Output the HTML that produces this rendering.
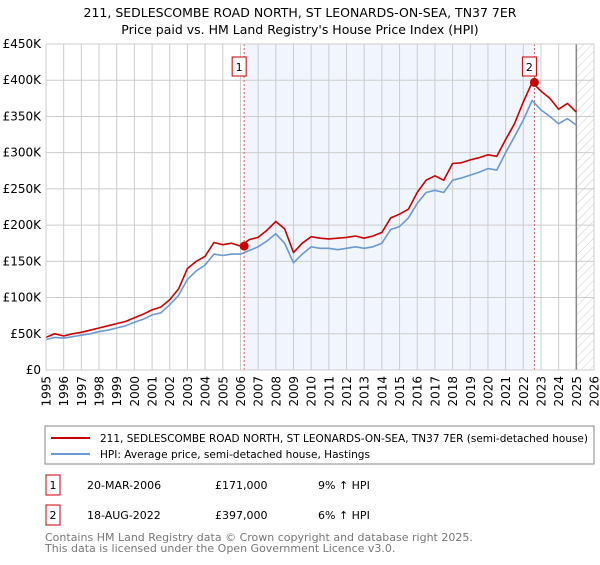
<!DOCTYPE html>
<html><head><meta charset="utf-8"><style>
body{margin:0;width:600px;height:560px;background:#fff;font-family:"Liberation Sans","DejaVu Sans",sans-serif;overflow:hidden}
svg text{font-family:"DejaVu Sans","Liberation Sans",sans-serif}
</style></head><body>
<svg id="chart" width="600" height="560" xmlns="http://www.w3.org/2000/svg">
<defs><pattern id="hatch" width="6" height="6" patternUnits="userSpaceOnUse" patternTransform="rotate(45)"><line x1="0" y1="0" x2="0" y2="6" stroke="#ccc" stroke-width="1"/></pattern></defs>
<text x="300" y="17" text-anchor="middle" font-size="12.5">211, SEDLESCOMBE ROAD NORTH, ST LEONARDS-ON-SEA, TN37 7ER</text>
<text x="300" y="34" text-anchor="middle" font-size="12.5">Price paid vs. HM Land Registry's House Price Index (HPI)</text>
<g id="plot"></g>
<rect x="45" y="426" width="549" height="38" fill="#fff" stroke="#888"/>
<line x1="51" y1="438" x2="90" y2="438" stroke="#cc0000" stroke-width="2"/>
<text x="100" y="442" font-size="11" textLength="488" lengthAdjust="spacingAndGlyphs">211, SEDLESCOMBE ROAD NORTH, ST LEONARDS-ON-SEA, TN37 7ER (semi-detached house)</text>
<line x1="51" y1="454" x2="90" y2="454" stroke="#6a99d2" stroke-width="2"/>
<text x="100" y="458" font-size="11" textLength="270" lengthAdjust="spacingAndGlyphs">HPI: Average price, semi-detached house, Hastings</text>
<g font-size="11">
<rect x="46" y="475" width="14" height="20" fill="#fff" stroke="#cc0000"/><text x="53" y="489" text-anchor="middle">1</text>
<text x="87" y="489">20-MAR-2006</text><text x="215" y="489">£171,000</text><text x="318" y="489">9% ↑ HPI</text></g>
<g font-size="11">
<rect x="46" y="505" width="14" height="20" fill="#fff" stroke="#cc0000"/><text x="53" y="519" text-anchor="middle">2</text>
<text x="87" y="519">18-AUG-2022</text><text x="215" y="519">£397,000</text><text x="318" y="519">6% ↑ HPI</text></g>
<text x="45" y="541" font-size="11" fill="#777">Contains HM Land Registry data © Crown copyright and database right 2025.</text>
<text x="45" y="552" font-size="11" fill="#777">This data is licensed under the Open Government Licence v3.0.</text>
</svg>
<script>
const times=[1995,1995.5,1996,1996.5,1997,1997.5,1998,1998.5,1999,1999.5,2000,2000.5,2001,2001.5,2002,2002.5,2003,2003.5,2004,2004.5,2005,2005.5,2006,2006.5,2007,2007.5,2008,2008.5,2009,2009.5,2010,2010.5,2011,2011.5,2012,2012.5,2013,2013.5,2014,2014.5,2015,2015.5,2016,2016.5,2017,2017.5,2018,2018.5,2019,2019.5,2020,2020.5,2021,2021.5,2022,2022.5,2023,2023.5,2024,2024.5,2025];
const hpiValues=[42,45,44,46,48,50,53,55,58,61,66,70,76,79,90,103,125,137,145,160,158,160,160,165,170,178,188,175,148,160,170,168,168,166,168,170,168,170,175,194,198,210,230,245,248,245,262,265,269,273,278,276,300,322,345,372,359,350,340,347,338];
const priceValues=[45,50,47,50,52,55,58,61,64,67,72,77,83,87,97,112,140,150,157,176,173,175,171,180,183,193,205,195,162,175,184,182,181,182,183,185,182,185,190,210,215,222,245,262,268,262,285,286,290,293,297,295,318,340,370,397,385,375,360,368,356];
const saleTimes=[2006.21,2022.63];
const saleValues=[171,397];
const saleLabels=["1","2"];
const yTicks=[0,50,100,150,200,250,300,350,400,450];
const yTickLabels=["£0","£50K","£100K","£150K","£200K","£250K","£300K","£350K","£400K","£450K"];
const xTicks=[1995,1996,1997,1998,1999,2000,2001,2002,2003,2004,2005,2006,2007,2008,2009,2010,2011,2012,2013,2014,2015,2016,2017,2018,2019,2020,2021,2022,2023,2024,2025,2026];
const dataEnd=2025.0;

const NS="http://www.w3.org/2000/svg";
const X0=46,X1=594,Y0=370,Y1=44;
const xs=t=>X0+(t-1995)/(2026-1995)*(X1-X0);
const ys=v=>Y0-v/450*(Y0-Y1);
const g=document.getElementById('plot');
function mk(tag,at,parent){const e=document.createElementNS(NS,tag);for(const k in at)e.setAttribute(k,at[k]);(parent||g).appendChild(e);return e;}
let e;
e=mk('rect',{x:X0,y:Y1,width:X1-X0,height:Y0-Y1,fill:'#fff'});


e=mk('rect',{x:xs(saleTimes[0]),y:Y1,width:xs(saleTimes[1])-xs(saleTimes[0]),height:Y0-Y1,fill:'#eef3fc',opacity:0.8});


e=mk('rect',{x:xs(dataEnd),y:Y1,width:X1-xs(dataEnd),height:Y0-Y1,fill:'url(#hatch)'});


yTicks.forEach((v,i)=>{
 e=mk('line',{x1:X0,x2:X1,y1:ys(v),y2:ys(v),stroke:'#ccc','stroke-width':1});
 
 
 e=mk('text',{x:X0-5,y:ys(v)+4,'text-anchor':'end','font-size':'12'});
 e.textContent=yTickLabels[i];
 
 
});
xTicks.forEach(t=>{
 e=mk('line',{x1:xs(t),x2:xs(t),y1:Y1,y2:Y0,stroke:'#ccc','stroke-width':1});
 
 
 const tx=xs(t)+4.5, ty=Y0+6;
 e=mk('text',{x:tx,y:ty,'text-anchor':'end','font-size':'12',transform:'rotate(-90 '+tx+' '+ty+')'});
 e.textContent=String(t);
 
 
});
e=mk('line',{x1:xs(dataEnd),x2:xs(dataEnd),y1:Y1,y2:Y0,stroke:'#888','stroke-width':1.5});


function path(vals,color,name){
 const d=vals.map((v,i)=>(i?'L':'M')+xs(times[i]).toFixed(1)+','+ys(v).toFixed(1)).join(' ');
 const p=mk('path',{d:d,fill:'none',stroke:color,'stroke-width':1.6,'stroke-linejoin':'round'});
 
 
}
path(hpiValues,'#6a99d2','hpi-line');
path(priceValues,'#cc0000','price-line');
saleTimes.forEach((t,i)=>{
 e=mk('line',{x1:xs(t),x2:xs(t),y1:Y1,y2:Y0,stroke:'#e06060','stroke-width':1,'stroke-dasharray':'2,2'});
 
 
 e=mk('circle',{cx:xs(t),cy:ys(saleValues[i]),r:4.5,fill:'#cc0000'});
 
 
 e=mk('rect',{x:xs(t)-12,y:57,width:14,height:19,fill:'#fff',stroke:'#cc0000'});
 
 
 e=mk('text',{x:xs(t)-5,y:71,'text-anchor':'middle','font-size':'11'});
 e.textContent=saleLabels[i];
 
 
});
e=mk('rect',{x:X0,y:Y1,width:X1-X0,height:Y0-Y1,fill:'none',stroke:'#ccc'});


</script>
</body></html>
